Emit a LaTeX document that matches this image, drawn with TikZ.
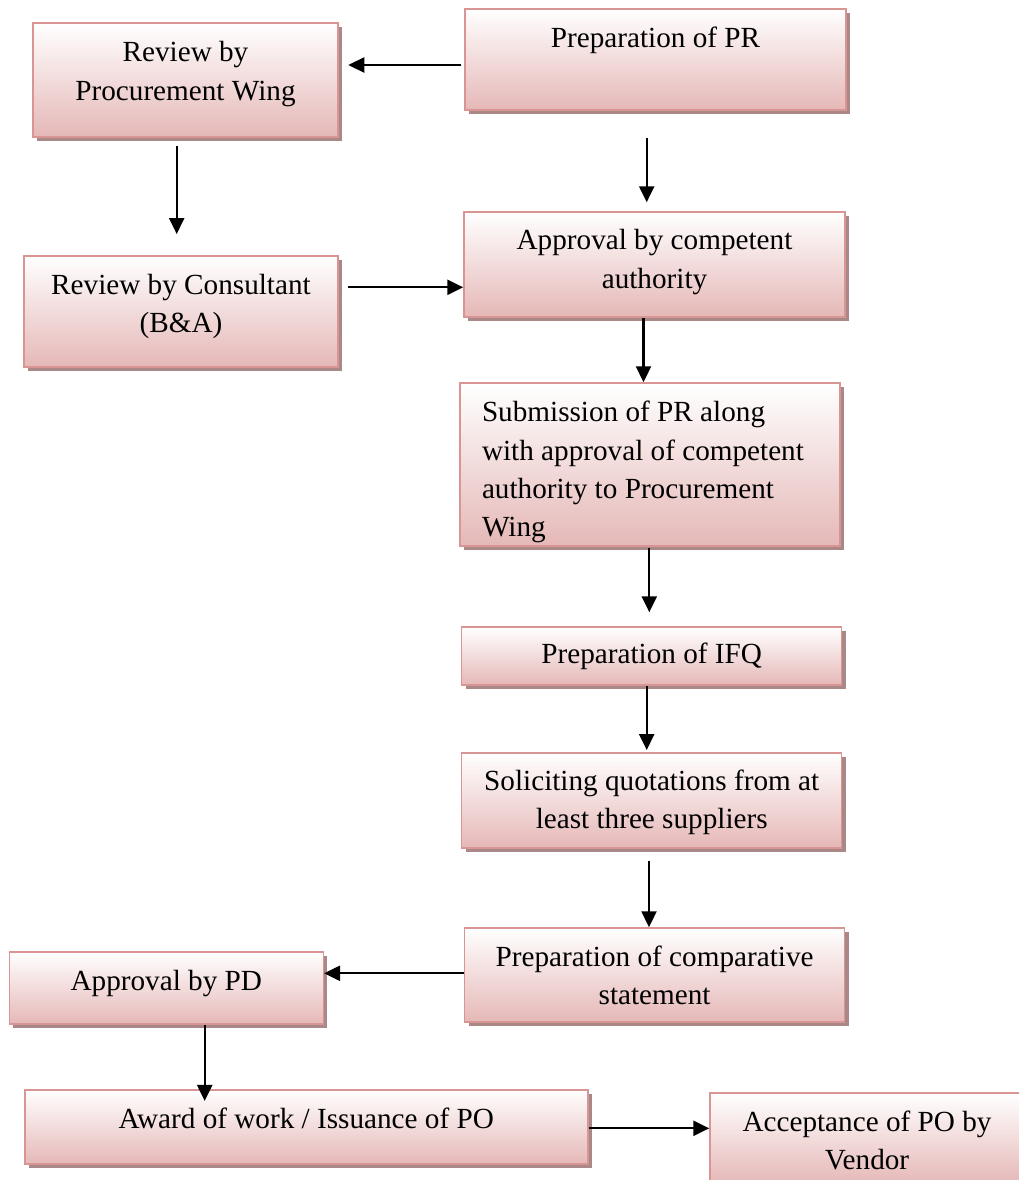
\documentclass[tikz,border=0pt]{standalone}
\usepackage{fontspec}
\setmainfont{Liberation Serif}
\usepackage{xcolor}
\usetikzlibrary{shadows,positioning,calc,arrows.meta}

\definecolor{boxedge}{RGB}{217,149,148}
\definecolor{boxpink}{RGB}{229,184,183}
\definecolor{boxshadow}{RGB}{170,136,136}

% invisible struts to move the text inside a box
\newcommand{\lift}[1]{\rule[-#1]{0pt}{#1}}
\newcommand{\sink}[1]{\rule{0pt}{#1}}

\begin{document}
\begin{tikzpicture}[x=1pt, y=-1pt,
    stepbox/.style={rectangle, draw=boxedge, line width=1.5pt, top color=white, bottom color=boxpink,
        general shadow={fill=boxshadow, shadow xshift=4pt, shadow yshift=-4pt},
        align=center, inner sep=0pt, font=\fontsize{29.2pt}{38.3pt}\selectfont},
    flow/.style={-{Triangle[length=16pt,width=15pt]}, line width=2.3pt}]
    \useasboundingbox (0,0) rectangle (1019,1180);

    % right column
    \node [stepbox, minimum width=381pt, minimum height=101pt] (prepPR) at (655.5,59.5) {Preparation of PR\lift{44pt}};
    \node [stepbox, minimum width=381pt, minimum height=105pt] (approvalCA) at (654.5,264.5) {Approval by competent\\authority\lift{11pt}};
    \node [stepbox, minimum width=380pt, minimum height=163pt, text width=336pt, align=flush left] (submitPR) at (650,464.5) {\sink{36pt}Submission of PR along\\with approval of competent\\authority to Procurement\\Wing};
    \node [stepbox, minimum width=380pt, minimum height=58pt] (prepIFQ) at (651.7,656) {Preparation of IFQ};
    \node [stepbox, minimum width=380pt, minimum height=95pt] (solicit) at (651.7,800.3) {\sink{25pt}Soliciting quotations from at\\least three suppliers};
    \node [stepbox, minimum width=380pt, minimum height=94pt] (compStmt) at (654.6,975) {\sink{21pt}Preparation of comparative\\statement};

    % left column and bottom row
    \node [stepbox, minimum width=305pt, minimum height=114pt] (reviewPW) at (185.5,80) {Review by\\Procurement Wing\lift{18pt}};
    \node [stepbox, minimum width=314pt, minimum height=111pt] (reviewCons) at (181,311.3) {Review by Consultant\\(B\&A)\lift{16pt}};
    \node [stepbox, minimum width=314pt, minimum height=72pt] (approvalPD) at (166.3,988) {Approval by PD\lift{15pt}};
    \node [stepbox, minimum width=563pt, minimum height=74pt] (awardPO) at (306.3,1127) {Award of work / Issuance of PO\lift{18.5pt}};
    \node [stepbox, minimum width=314pt, minimum height=91pt] (acceptPO) at (867,1138.5) {\sink{25pt}Acceptance of PO by\\Vendor};

    % connectors
    \draw [flow, shorten <=3pt, shorten >=9.5pt] ([yshift=-5.5pt]prepPR.west) -- ([yshift=15pt]reviewPW.east);
    \draw [flow, shorten <=8pt, shorten >=21pt] ([xshift=-8.8pt]reviewPW.south) -- ([xshift=-4.3pt]reviewCons.north);
    \draw [flow, shorten <=27pt, shorten >=9pt] ([xshift=-8.8pt]prepPR.south) -- ([xshift=-7.8pt]approvalCA.north);
    \draw [flow, shorten <=9pt] ([yshift=24pt]reviewCons.east) -- ([yshift=-22.8pt]approvalCA.west);
    \draw [flow] ([xshift=-11pt]approvalCA.south) -- ([xshift=-6.5pt]submitPR.north);
    \draw [flow, shorten <=1pt, shorten >=14pt] ([xshift=-0.7pt]submitPR.south) -- ([xshift=-2.4pt]prepIFQ.north);
    \draw [flow, shorten >=2pt] ([xshift=-5pt]prepIFQ.south) -- ([xshift=-5pt]solicit.north);
    \draw [flow, shorten <=12pt] ([xshift=-2.7pt]solicit.south) -- ([xshift=-5.6pt]compStmt.north);
    \draw [flow] ([yshift=1.7pt]compStmt.west) -- ([yshift=14.7pt]approvalPD.east);
    \draw [flow, shorten >=-11.7pt] ([xshift=38.4pt]approvalPD.south) -- ([xshift=-101.6pt]awardPO.north);
    \draw [flow] ([yshift=-1.3pt]awardPO.east) -- ([yshift=10.2pt]acceptPO.west);
\end{tikzpicture}
\end{document}
